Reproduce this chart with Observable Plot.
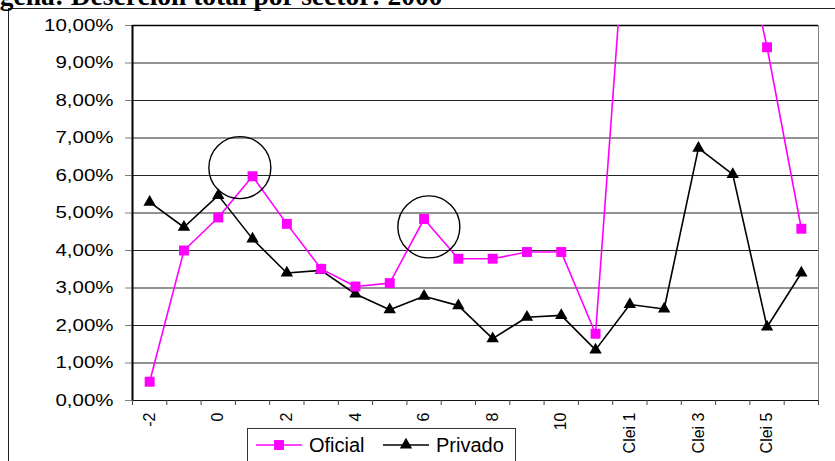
<!DOCTYPE html>
<html>
<head>
<meta charset="utf-8">
<script src="https://cdn.jsdelivr.net/npm/d3@7"></script>
<script src="https://cdn.jsdelivr.net/npm/@observablehq/plot@0.6"></script>
<style>
  html, body { margin: 0; padding: 0; background: #fff; }
  body { width: 835px; height: 461px; overflow: hidden; position: relative; font-family: Arial, "Liberation Sans", sans-serif; }
  #frame { position: absolute; left: 8px; top: 8px; width: 900px; height: 600px; border-left: 1.5px solid #222; border-top: 1.5px solid #222; }
  #title { position: absolute; left: -69px; top: -18px; font: bold 27.5px "Liberation Serif", "Times New Roman", serif; line-height: 27.5px; white-space: nowrap; color: #000; }
  #chart { position: absolute; left: 0; top: 0; }
  #legend { position: absolute; left: 247px; top: 428px; width: 267px; height: 60px; border: 1px solid #333; background: #fff; }
  #legend .item { position: absolute; top: 2px; height: 28px; display: flex; align-items: center; font-size: 20px; color: #000; white-space: nowrap; }
  #legend svg { display: block; margin-right: 5px; }
</style>
</head>
<body>
<div id="frame"></div>
<div id="title">Cartagena: Deserción total por sector: 2000</div>
<div id="chart"></div>
<div id="legend"></div>
<script>
// ---- data ----
const categories = ["-2", "-1", "0", "1", "2", "3", "4", "5", "6", "7", "8", "9", "10", "11",
                    "Clei 1", "Clei 2", "Clei 3", "Clei 4", "Clei 5", "Clei 6"];
const oficial = [0.0050, 0.0400, 0.0488, 0.0598, 0.0471, 0.0351, 0.0304, 0.0313, 0.0484, 0.0378,
                 0.0378, 0.0396, 0.0396, 0.0178, 0.1430, 0.1550, 0.1450, 0.1360, 0.0942, 0.0458];
const privado = [0.0529, 0.0462, 0.0547, 0.0431, 0.0340, 0.0347, 0.0284, 0.0242, 0.0278, 0.0253,
                 0.0165, 0.0222, 0.0227, 0.0135, 0.0256, 0.0244, 0.0673, 0.0603, 0.0196, 0.0340];
const seriesNames = ["Oficial", "Privado"];
const seriesColors = ["#FF00FF", "#000000"];
const yTicks = [0, 0.01, 0.02, 0.03, 0.04, 0.05, 0.06, 0.07, 0.08, 0.09, 0.10];
// hand-drawn highlight circles (category index units, value)
const highlightPos = [2.63, 8.14];
const highlightVal = [0.0621, 0.0463];

// ---- tables built from the arrays ----
const rowsOf = (vals) => vals.map((v, i) => ({pos: i + 0.5, value: v, cat: categories[i]}));
const oficialRows = rowsOf(oficial);
const privadoRows = rowsOf(privado);
const highlights = highlightPos.map((p, i) => ({pos: p + 0.5, value: highlightVal[i]}));
const boundaries = d3.range(0, categories.length + 1);
const labelPositions = categories.map((c, i) => i).filter(i => i % 2 === 0).map(i => i + 0.5);
const catAt = (p) => categories[Math.round(p - 0.5)];
const pctFmt = d => (d * 100).toFixed(2).replace(".", ",") + "%";

const font = "Arial, 'Liberation Sans', sans-serif";

const chart = Plot.plot({
  width: 835,
  height: 461,
  marginLeft: 132,
  marginRight: 17,
  marginTop: 25,
  marginBottom: 61,
  style: {fontFamily: font, fontSize: "16px", background: "transparent", color: "#000"},
  x: {type: "linear", domain: [0, categories.length], axis: null, label: null},
  y: {type: "linear", domain: [0, 0.10], axis: null, label: null},
  marks: [
    Plot.frame({stroke: "#808080", strokeWidth: 1}),
    Plot.gridY({ticks: yTicks, stroke: "#000", strokeOpacity: 0.85, strokeWidth: 1}),
    Plot.axisY({ticks: yTicks, tickSize: 7, tickPadding: 12, tickFormat: pctFmt, label: null,
                stroke: "#808080", fill: "#000", fontSize: 16, fontFamily: font}),
    Plot.axisX({ticks: boundaries, tickSize: 5, tickFormat: () => "", label: null, stroke: "#444"}),
    Plot.axisX({ticks: labelPositions, tickSize: 0, tickPadding: 12, tickRotate: -90,
                textAnchor: "end", lineAnchor: "middle", label: null,
                tickFormat: catAt, fill: "#000", fontSize: 16, fontFamily: font}),
    Plot.ruleX([0], {stroke: "#000", strokeWidth: 2}),
    Plot.ruleY([0.10], {stroke: "#000", strokeWidth: 1.5}),
    Plot.line(privadoRows, {x: "pos", y: "value", stroke: seriesColors[1], strokeWidth: 1.6, clip: true}),
    Plot.dot(privadoRows, {x: "pos", y: "value", symbol: "triangle", r: 4.6, fill: seriesColors[1], stroke: "none", clip: true}),
    Plot.line(oficialRows, {x: "pos", y: "value", stroke: seriesColors[0], strokeWidth: 1.6, clip: true}),
    Plot.dot(oficialRows, {x: "pos", y: "value", symbol: "square", r: 5.6, fill: seriesColors[0], stroke: "none", clip: true}),
    Plot.dot(highlights, {x: "pos", y: "value", r: 31, fill: "none", stroke: "#000", strokeWidth: 1.4})
  ]
});
document.getElementById("chart").appendChild(chart);

// widen the y tick labels like in the reference
d3.select(chart).selectAll('g[aria-label="y-axis tick label"] text').each(function () {
  const t = this.getAttribute("transform");
  if (t) this.setAttribute("transform", t + " scale(1.28,1)");
  else {
    const x = +this.getAttribute("x") || 0, y = +this.getAttribute("y") || 0;
    this.removeAttribute("x"); this.removeAttribute("y");
    this.setAttribute("transform", `translate(${x},${y}) scale(1.28,1)`);
  }
});

// ---- legend ----
const legend = document.getElementById("legend");
const legendLefts = [6, 133];
seriesNames.forEach((name, k) => {
  const item = document.createElement("div");
  item.className = "item";
  item.style.left = legendLefts[k] + "px";
  const svg = d3.create("svg").attr("width", 50).attr("height", 28);
  svg.append("line").attr("x1", 2).attr("x2", 48).attr("y1", 14).attr("y2", 14)
     .attr("stroke", seriesColors[k]).attr("stroke-width", 1.6);
  const sym = k === 0 ? d3.symbolSquare : d3.symbolTriangle;
  const size = k === 0 ? Math.PI * 5.6 * 5.6 : Math.PI * 4.6 * 4.6;
  svg.append("path").attr("d", d3.symbol(sym, size)()).attr("transform", "translate(25,14)")
     .attr("fill", seriesColors[k]);
  item.appendChild(svg.node());
  const span = document.createElement("span");
  span.textContent = name;
  item.appendChild(span);
  legend.appendChild(item);
});
</script>
</body>
</html>
